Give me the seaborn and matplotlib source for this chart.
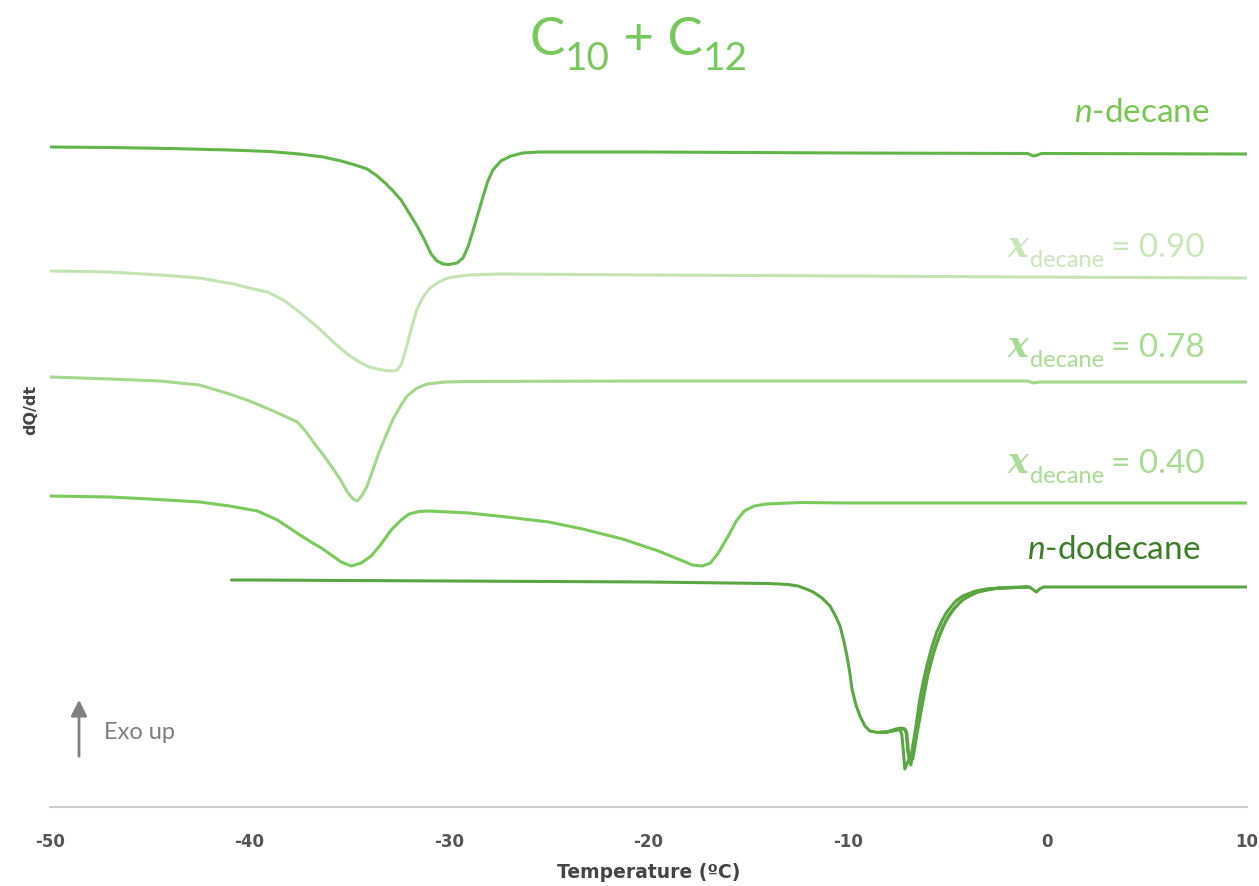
import seaborn as sns
import matplotlib.pyplot as plt
import pandas as pd

# DSC traces, dQ/dt in arbitrary units (stacked, exo up)
decane_T = [-50, -47, -44, -41, -39, -37.5, -36.3, -35.4, -34.7, -34.1, -33.6, -33.2, -32.8,
            -32.4, -32.0, -31.6, -31.2, -30.9, -30.6, -30.3, -30.0, -29.6, -29.3, -29.05,
            -28.8, -28.55, -28.3, -28.05, -27.8, -27.4, -26.9, -26.3, -25.5, -20, -10,
            -1.0, -0.7, -0.5, -0.3, 10]
decane_q = [6.60, 6.595, 6.585, 6.57, 6.555, 6.53, 6.50, 6.46, 6.42, 6.38, 6.31, 6.24, 6.16,
            6.07, 5.94, 5.81, 5.66, 5.53, 5.46, 5.43, 5.425, 5.44, 5.49, 5.60,
            5.76, 5.93, 6.10, 6.26, 6.37, 6.46, 6.51, 6.54, 6.55, 6.55, 6.54,
            6.535, 6.51, 6.52, 6.535, 6.53]

x090_T = [-50, -47, -44.5, -42.5, -40.8, -39.8, -39.1, -38.3, -37.5, -36.6, -35.8, -35.1, -34.5,
          -34.0, -33.6, -33.2, -32.8, -32.6, -32.4, -32.2, -32.0, -31.8, -31.6, -31.3, -31.0,
          -30.6, -30.2, -29.8, -29.0, -27.4, -20, -10, -1, 10]
x090_q = [5.36, 5.35, 5.32, 5.29, 5.23, 5.18, 5.15, 5.07, 4.95, 4.80, 4.65, 4.53, 4.45,
          4.40, 4.38, 4.365, 4.36, 4.37, 4.42, 4.55, 4.70, 4.85, 4.98, 5.10, 5.18,
          5.24, 5.28, 5.30, 5.32, 5.33, 5.32, 5.31, 5.30, 5.29]

x078_T = [-50, -47, -44.5, -42.5, -41, -40, -38.8, -37.6, -37.2, -36.8, -36.3, -35.8, -35.4,
          -35.1, -34.8, -34.6, -34.35, -34.1, -33.8, -33.5, -33.15, -32.8, -32.4, -32.1,
          -31.6, -31.1, -30.2, -29.1, -20, -10, -1, -0.7, -0.4, 10]
x078_q = [4.30, 4.28, 4.26, 4.22, 4.13, 4.06, 3.96, 3.85, 3.76, 3.65, 3.52, 3.38, 3.26,
          3.15, 3.08, 3.06, 3.12, 3.21, 3.38, 3.55, 3.72, 3.88, 4.02, 4.11,
          4.19, 4.23, 4.25, 4.255, 4.26, 4.26, 4.26, 4.24, 4.25, 4.25]

x040_T = [-50, -47, -45, -42.5, -41, -39.6, -38.6, -37.7, -37.0, -36.4, -35.9, -35.4, -34.9,
          -34.4, -33.9, -33.4, -32.9, -32.4, -32.0, -31.5, -31.0, -29, -27.1, -25, -23.3,
          -21.3, -19.5, -18.4, -17.8, -17.3, -16.9, -16.5, -16.0, -15.6, -15.2, -14.7,
          -14.1, -12.4, -10, 10]
x040_q = [3.11, 3.10, 3.08, 3.05, 3.01, 2.96, 2.87, 2.75, 2.66, 2.59, 2.52, 2.45, 2.41,
          2.44, 2.51, 2.63, 2.77, 2.87, 2.93, 2.955, 2.96, 2.94, 2.90, 2.85, 2.78,
          2.68, 2.56, 2.47, 2.42, 2.41, 2.44, 2.54, 2.71, 2.86, 2.96, 3.01,
          3.03, 3.045, 3.04, 3.04]

dodecane_T = [-40.9, -40, -30, -20, -14, -13, -12.5, -12.1, -11.75, -11.3, -10.9, -10.6, -10.4,
              -10.2, -10.05, -9.9, -9.8, -9.6, -9.4, -9.15, -8.9, -8.5, -8.05, -7.7, -7.4,
              -7.3, -7.2, -7.15, -7.0, -6.8, -6.6, -6.4, -6.2, -6.05, -5.8, -5.55, -5.3,
              -5.05, -4.6, -4.25, -3.6, -3.05, -2, -0.9, -0.7, -0.55, -0.4, -0.2, 10]
dodecane_q = [2.27, 2.27, 2.26, 2.25, 2.235, 2.225, 2.21, 2.18, 2.15, 2.09, 2.01, 1.90, 1.81,
              1.65, 1.51, 1.33, 1.18, 1.02, 0.91, 0.81, 0.76, 0.745, 0.75, 0.77, 0.78,
              0.72, 0.50, 0.38, 0.45, 0.55, 0.80, 1.08, 1.28, 1.41, 1.60, 1.75, 1.86,
              1.95, 2.06, 2.11, 2.16, 2.18, 2.195, 2.20, 2.17, 2.15, 2.18, 2.20, 2.20]

# repeat scans of n-dodecane, slightly offset on the melting flank
dodecane2_T = [-8.5, -8.05, -7.6, -7.3, -7.1, -7.0, -6.85, -6.6, -6.35, -6.1, -5.85, -5.55,
               -5.25, -4.9, -4.4, -3.8, -3.0, -1.0]
dodecane2_q = [0.745, 0.75, 0.78, 0.79, 0.77, 0.55, 0.42, 0.70, 1.00, 1.25, 1.45, 1.65,
               1.80, 1.93, 2.05, 2.13, 2.18, 2.20]
dodecane3_T = [-8.5, -8.0, -7.5, -7.2, -7.05, -6.95, -6.75, -6.5, -6.25, -6.0, -5.7, -5.4,
               -5.1, -4.7, -4.2, -3.5, -2.5, -1.0]
dodecane3_q = [0.745, 0.75, 0.77, 0.785, 0.74, 0.50, 0.48, 0.78, 1.05, 1.32, 1.55, 1.72,
               1.86, 1.98, 2.08, 2.15, 2.19, 2.20]

samples = ["n-decane", "x=0.90", "x=0.78", "x=0.40", "n-dodecane", "n-dodecane 2", "n-dodecane 3"]
line_colors = ["#62b548", "#c3e4b2", "#a4d88d", "#7acb5b", "#5aa642", "#5aa642", "#5aa642"]
label_colors = ["#77c64f", "#c8e7b8", "#a9dc94", "#a9dc94", "#3e7d28"]
label_values = ["0.90", "0.78", "0.40"]

frames = []
for name, T, q in zip(samples,
                      [decane_T, x090_T, x078_T, x040_T, dodecane_T, dodecane2_T, dodecane3_T],
                      [decane_q, x090_q, x078_q, x040_q, dodecane_q, dodecane2_q, dodecane3_q]):
    frames.append(pd.DataFrame({"T": T, "q": q, "sample": name}))
df = pd.concat(frames, ignore_index=True)

sns.set_theme(style="white")
plt.rcParams["font.family"] = ["Lato", "DejaVu Sans"]
plt.rcParams["axes.unicode_minus"] = False
plt.rcParams["mathtext.fontset"] = "custom"
plt.rcParams["mathtext.rm"] = "Lato"
plt.rcParams["mathtext.it"] = "Lato:italic"

W, H = 1259, 887
fig = plt.figure(figsize=(W / 100, H / 100), dpi=100)
ax = fig.add_axes([50 / W, 1 - 808 / H, 1197 / W, 708 / H])

sns.lineplot(data=df, x="T", y="q", hue="sample", palette=dict(zip(samples, line_colors)),
             sort=False, estimator=None, legend=False, linewidth=2.2, ax=ax)

ax.set_xlim(-50, 10)
ax.set_ylim(0, 7.08)
ax.set_xticks(range(-50, 11, 10))
ax.set_yticks([])
for s in ["top", "right", "left"]:
    ax.spines[s].set_visible(False)
ax.spines["bottom"].set_color("#cccccc")
ax.spines["bottom"].set_linewidth(1.5)
ax.tick_params(axis="x", length=0, pad=18)
for lab in ax.get_xticklabels():
    lab.set_fontfamily("DejaVu Sans")
    lab.set_fontweight("bold")
    lab.set_fontsize(12)
    lab.set_color("#555555")
ax.set_xlabel("Temperature (ºC)", family="DejaVu Sans", weight="bold", size=13.5,
              color="#444444", labelpad=9)
ax.set_ylabel("dQ/dt", family="DejaVu Sans", weight="bold", size=11.5, color="#444444")
ax.yaxis.set_label_coords(-0.010, 0.562)

# title C10 + C12 with real subscripts
title_col = "#77c95b"
c1 = fig.text(530 / W, 1 - 55 / H, "C", size=38, color=title_col, va="baseline")
s1 = ax.annotate("10", xy=(1, 0), xycoords=c1, xytext=(0, -9), textcoords="offset points",
                 size=28, color=title_col, va="bottom")
c2 = ax.annotate(" + C", xy=(1, 0), xycoords=s1, xytext=(0, 9), textcoords="offset points",
                 size=38, color=title_col, va="bottom")
ax.annotate("12", xy=(1, 0), xycoords=c2, xytext=(0, -9), textcoords="offset points",
            size=28, color=title_col, va="bottom")

# curve labels
fig.text(1210 / W, 1 - 122 / H, r"$n$-decane", ha="right", va="baseline", size=24,
         color=label_colors[0])
fig.text(1200 / W, 1 - 559 / H, r"$n$-dodecane", ha="right", va="baseline", size=24,
         color=label_colors[4])

for val, ypix, col in zip(label_values, [257, 357, 473], label_colors[1:4]):
    t1 = fig.text(1008 / W, 1 - ypix / H, "x", family="DejaVu Serif", style="italic",
                  weight="bold", size=25, color=col, va="baseline")
    t2 = ax.annotate("decane", xy=(1, 0), xycoords=t1, xytext=(1, -5),
                     textcoords="offset points", size=17, color=col, va="bottom")
    ax.annotate("= " + val, xy=(1, 0), xycoords=t2, xytext=(5, 5.5),
                textcoords="offset points", size=24, color=col, va="bottom")

# exo up marker
ax.annotate("", xy=(79 / W, 1 - 698 / H), xytext=(79 / W, 1 - 760 / H),
            xycoords="figure fraction",
            arrowprops=dict(arrowstyle="-|>", color="#808080", lw=2, mutation_scale=24))
fig.text(104 / W, 1 - 733 / H, "Exo up", va="center", size=17, color="#7f7f7f")

fig.savefig("out.png", dpi=100)
